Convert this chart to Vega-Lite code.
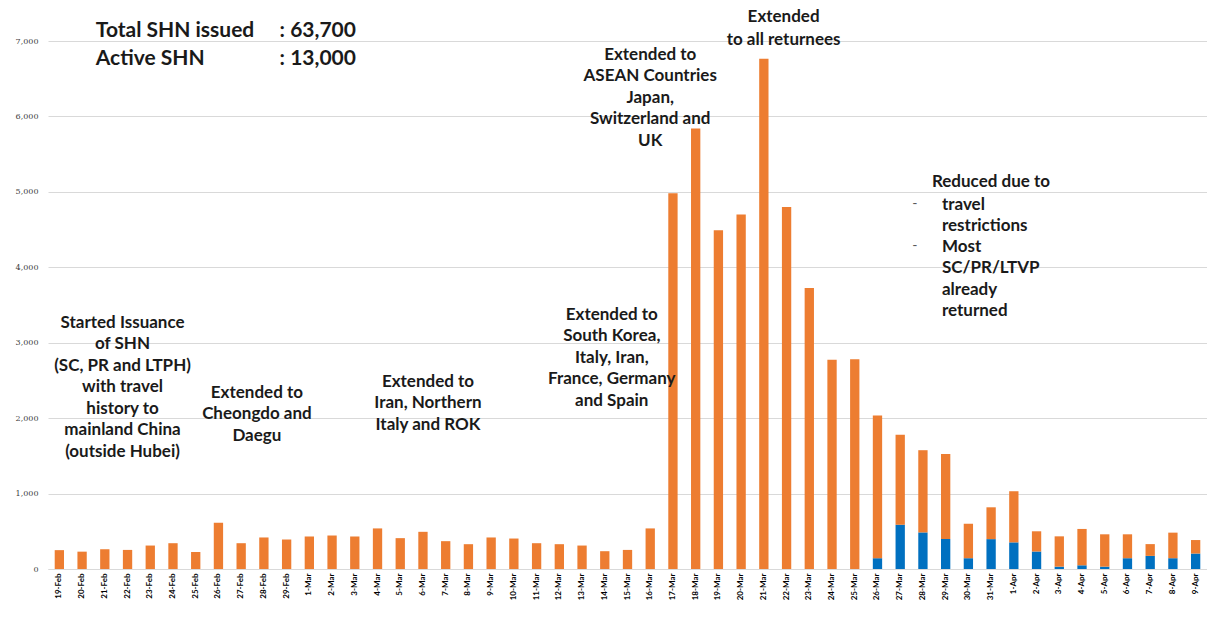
{
  "$schema": "https://vega.github.io/schema/vega-lite/v6.json",
  "width": 1159,
  "height": 528,
  "autosize": {"type": "none"},
  "padding": {"left": 48, "top": 41, "right": 0, "bottom": 48},
  "background": "white",
  "config": {"view": {"stroke": null}, "font": "Lato"},
  "datasets": {
    "bars": [
      {"date": "19-Feb", "group": "B", "count": 250},
      {"date": "20-Feb", "group": "B", "count": 230},
      {"date": "21-Feb", "group": "B", "count": 262},
      {"date": "22-Feb", "group": "B", "count": 253},
      {"date": "23-Feb", "group": "B", "count": 311},
      {"date": "24-Feb", "group": "B", "count": 342},
      {"date": "25-Feb", "group": "B", "count": 227},
      {"date": "26-Feb", "group": "B", "count": 613},
      {"date": "27-Feb", "group": "B", "count": 342},
      {"date": "28-Feb", "group": "B", "count": 418},
      {"date": "29-Feb", "group": "B", "count": 391},
      {"date": "1-Mar", "group": "B", "count": 431},
      {"date": "2-Mar", "group": "B", "count": 444},
      {"date": "3-Mar", "group": "B", "count": 431},
      {"date": "4-Mar", "group": "B", "count": 538},
      {"date": "5-Mar", "group": "B", "count": 409},
      {"date": "6-Mar", "group": "B", "count": 493},
      {"date": "7-Mar", "group": "B", "count": 369},
      {"date": "8-Mar", "group": "B", "count": 329},
      {"date": "9-Mar", "group": "B", "count": 418},
      {"date": "10-Mar", "group": "B", "count": 404},
      {"date": "11-Mar", "group": "B", "count": 342},
      {"date": "12-Mar", "group": "B", "count": 329},
      {"date": "13-Mar", "group": "B", "count": 311},
      {"date": "14-Mar", "group": "B", "count": 236},
      {"date": "15-Mar", "group": "B", "count": 253},
      {"date": "16-Mar", "group": "B", "count": 538},
      {"date": "17-Mar", "group": "B", "count": 4980},
      {"date": "18-Mar", "group": "B", "count": 5840},
      {"date": "19-Mar", "group": "B", "count": 4490},
      {"date": "20-Mar", "group": "B", "count": 4700},
      {"date": "21-Mar", "group": "B", "count": 6765},
      {"date": "22-Mar", "group": "B", "count": 4800},
      {"date": "23-Mar", "group": "B", "count": 3725},
      {"date": "24-Mar", "group": "B", "count": 2775},
      {"date": "25-Mar", "group": "B", "count": 2780},
      {"date": "26-Mar", "group": "A", "count": 143},
      {"date": "26-Mar", "group": "B", "count": 1892},
      {"date": "27-Mar", "group": "A", "count": 587},
      {"date": "27-Mar", "group": "B", "count": 1193},
      {"date": "28-Mar", "group": "A", "count": 485},
      {"date": "28-Mar", "group": "B", "count": 1090},
      {"date": "29-Mar", "group": "A", "count": 398},
      {"date": "29-Mar", "group": "B", "count": 1127},
      {"date": "30-Mar", "group": "A", "count": 143},
      {"date": "30-Mar", "group": "B", "count": 457},
      {"date": "31-Mar", "group": "A", "count": 396},
      {"date": "31-Mar", "group": "B", "count": 422},
      {"date": "1-Apr", "group": "A", "count": 353},
      {"date": "1-Apr", "group": "B", "count": 678},
      {"date": "2-Apr", "group": "A", "count": 232},
      {"date": "2-Apr", "group": "B", "count": 268},
      {"date": "3-Apr", "group": "A", "count": 31},
      {"date": "3-Apr", "group": "B", "count": 402},
      {"date": "4-Apr", "group": "A", "count": 49},
      {"date": "4-Apr", "group": "B", "count": 482},
      {"date": "5-Apr", "group": "A", "count": 31},
      {"date": "5-Apr", "group": "B", "count": 429},
      {"date": "6-Apr", "group": "A", "count": 143},
      {"date": "6-Apr", "group": "B", "count": 317},
      {"date": "7-Apr", "group": "A", "count": 174},
      {"date": "7-Apr", "group": "B", "count": 156},
      {"date": "8-Apr", "group": "A", "count": 143},
      {"date": "8-Apr", "group": "B", "count": 339},
      {"date": "9-Apr", "group": "A", "count": 205},
      {"date": "9-Apr", "group": "B", "count": 179}
    ],
    "notes": [
      {"id": "n1", "date": "22-Feb", "value": 3371, "label": "Started Issuance\nof SHN\n(SC, PR and LTPH)\nwith travel\nhistory to\nmainland China\n(outside Hubei)"},
      {"id": "n2", "date": "28-Feb", "value": 2444, "label": "Extended to\nCheongdo and\nDaegu"},
      {"id": "n3", "date": "6-Mar", "value": 2589, "label": "Extended to\nIran, Northern\nItaly and ROK"},
      {"id": "n4", "date": "14-Mar", "value": 3477, "label": "Extended to\nSouth Korea,\nItaly, Iran,\nFrance, Germany\nand Spain"},
      {"id": "n5", "date": "16-Mar", "value": 6921, "label": "Extended to\nASEAN Countries\nJapan,\nSwitzerland and\nUK"},
      {"id": "n6", "date": "22-Mar", "value": 7424, "label": "Extended\nto all returnees"},
      {"id": "n7h", "date": "28-Mar", "value": 5238, "label": "Reduced due to"},
      {"id": "n7b", "date": "28-Mar", "value": 4934, "label": "travel\nrestrictions\nMost\nSC/PR/LTVP\nalready\nreturned"},
      {"id": "n7d", "date": "28-Mar", "value": 4934, "label": "-"},
      {"id": "n7d", "date": "28-Mar", "value": 4377, "label": "-"},
      {"id": "t1", "date": "21-Feb", "value": 7278, "label": "Total SHN issued\nActive SHN"},
      {"id": "t2", "date": "29-Feb", "value": 7278, "label": ": 63,700\n: 13,000"}
    ]
  },
  "encoding": {
    "x": {
      "field": "date",
      "type": "ordinal",
      "scale": {
        "domain": ["19-Feb","20-Feb","21-Feb","22-Feb","23-Feb","24-Feb","25-Feb","26-Feb","27-Feb","28-Feb","29-Feb","1-Mar","2-Mar","3-Mar","4-Mar","5-Mar","6-Mar","7-Mar","8-Mar","9-Mar","10-Mar","11-Mar","12-Mar","13-Mar","14-Mar","15-Mar","16-Mar","17-Mar","18-Mar","19-Mar","20-Mar","21-Mar","22-Mar","23-Mar","24-Mar","25-Mar","26-Mar","27-Mar","28-Mar","29-Mar","30-Mar","31-Mar","1-Apr","2-Apr","3-Apr","4-Apr","5-Apr","6-Apr","7-Apr","8-Apr","9-Apr"],
        "paddingInner": 0.59,
        "paddingOuter": 0.295
      },
      "axis": {
        "title": null,
        "labelAngle": -90,
        "labelFontSize": 8,
        "labelFontWeight": "bold",
        "labelColor": "#000000",
        "labelPadding": 4,
        "ticks": false,
        "domainColor": "#d9d9d9",
        "grid": false
      }
    }
  },
  "layer": [
    {
      "data": {"name": "bars"},
      "mark": {"type": "bar"},
      "encoding": {
        "y": {
          "field": "count",
          "type": "quantitative",
          "stack": "zero",
          "scale": {"domain": [0, 7000], "nice": false},
          "axis": {
            "title": null,
            "values": [0, 1000, 2000, 3000, 4000, 5000, 6000, 7000],
            "format": ",.0f",
            "labelFontSize": 8,
            "labelColor": "#404040",
            "labelFont": "DejaVu Serif",
            "ticks": false,
            "domain": false,
            "gridColor": "#d9d9d9",
            "labelPadding": 10
          }
        },
        "color": {
          "field": "group",
          "type": "nominal",
          "scale": {"domain": ["A", "B"], "range": ["#0070C0", "#ED7D31"]},
          "legend": null
        },
        "order": {"field": "group", "sort": "ascending"}
      }
    },
    {
      "data": {"name": "notes"},
      "transform": [{"filter": "datum.id === 'n1'"}],
      "mark": {"type": "text", "align": "center", "baseline": "top", "dx": -5, "lineBreak": "\n", "lineHeight": 21.5, "fontSize": 17, "fontWeight": "bold", "font": "Lato", "color": "#1a1a1a"},
      "encoding": {"y": {"field": "value", "type": "quantitative"}, "text": {"field": "label"}}
    },
    {
      "data": {"name": "notes"},
      "transform": [{"filter": "datum.id === 'n2'"}],
      "mark": {"type": "text", "align": "center", "baseline": "top", "dx": -7, "lineBreak": "\n", "lineHeight": 21.5, "fontSize": 17, "fontWeight": "bold", "font": "Lato", "color": "#1a1a1a"},
      "encoding": {"y": {"field": "value", "type": "quantitative"}, "text": {"field": "label"}}
    },
    {
      "data": {"name": "notes"},
      "transform": [{"filter": "datum.id === 'n3'"}],
      "mark": {"type": "text", "align": "center", "baseline": "top", "dx": 5, "lineBreak": "\n", "lineHeight": 21.5, "fontSize": 17, "fontWeight": "bold", "font": "Lato", "color": "#1a1a1a"},
      "encoding": {"y": {"field": "value", "type": "quantitative"}, "text": {"field": "label"}}
    },
    {
      "data": {"name": "notes"},
      "transform": [{"filter": "datum.id === 'n4'"}],
      "mark": {"type": "text", "align": "center", "baseline": "top", "dx": 7, "lineBreak": "\n", "lineHeight": 21.5, "fontSize": 17, "fontWeight": "bold", "font": "Lato", "color": "#1a1a1a"},
      "encoding": {"y": {"field": "value", "type": "quantitative"}, "text": {"field": "label"}}
    },
    {
      "data": {"name": "notes"},
      "transform": [{"filter": "datum.id === 'n5'"}],
      "mark": {"type": "text", "align": "center", "baseline": "top", "dx": 0, "lineBreak": "\n", "lineHeight": 21.5, "fontSize": 17, "fontWeight": "bold", "font": "Lato", "color": "#1a1a1a"},
      "encoding": {"y": {"field": "value", "type": "quantitative"}, "text": {"field": "label"}}
    },
    {
      "data": {"name": "notes"},
      "transform": [{"filter": "datum.id === 'n6'"}],
      "mark": {"type": "text", "align": "center", "baseline": "top", "dx": -3, "lineBreak": "\n", "lineHeight": 23, "fontSize": 17, "fontWeight": "bold", "font": "Lato", "color": "#1a1a1a"},
      "encoding": {"y": {"field": "value", "type": "quantitative"}, "text": {"field": "label"}}
    },
    {
      "data": {"name": "notes"},
      "transform": [{"filter": "datum.id === 'n7h'"}],
      "mark": {"type": "text", "align": "left", "baseline": "top", "dx": 9, "lineBreak": "\n", "lineHeight": 21.2, "fontSize": 17, "fontWeight": "bold", "font": "Lato", "color": "#1a1a1a"},
      "encoding": {"y": {"field": "value", "type": "quantitative"}, "text": {"field": "label"}}
    },
    {
      "data": {"name": "notes"},
      "transform": [{"filter": "datum.id === 'n7b'"}],
      "mark": {"type": "text", "align": "left", "baseline": "top", "dx": 19, "lineBreak": "\n", "lineHeight": 21.2, "fontSize": 17, "fontWeight": "bold", "font": "Lato", "color": "#1a1a1a"},
      "encoding": {"y": {"field": "value", "type": "quantitative"}, "text": {"field": "label"}}
    },
    {
      "data": {"name": "notes"},
      "transform": [{"filter": "datum.id === 'n7d'"}],
      "mark": {"type": "text", "align": "center", "baseline": "top", "dx": -8, "fontSize": 14, "fontWeight": "normal", "font": "Lato", "color": "#595959"},
      "encoding": {"y": {"field": "value", "type": "quantitative"}, "text": {"field": "label"}}
    },
    {
      "data": {"name": "notes"},
      "transform": [{"filter": "datum.id === 't1'"}],
      "mark": {"type": "text", "align": "left", "baseline": "top", "dx": -9, "lineBreak": "\n", "lineHeight": 28, "fontSize": 21, "fontWeight": "bold", "font": "Lato", "color": "#1a1a1a"},
      "encoding": {"y": {"field": "value", "type": "quantitative"}, "text": {"field": "label"}}
    },
    {
      "data": {"name": "notes"},
      "transform": [{"filter": "datum.id === 't2'"}],
      "mark": {"type": "text", "align": "left", "baseline": "top", "dx": -7, "lineBreak": "\n", "lineHeight": 28, "fontSize": 21, "fontWeight": "bold", "font": "Lato", "color": "#1a1a1a"},
      "encoding": {"y": {"field": "value", "type": "quantitative"}, "text": {"field": "label"}}
    }
  ]
}
